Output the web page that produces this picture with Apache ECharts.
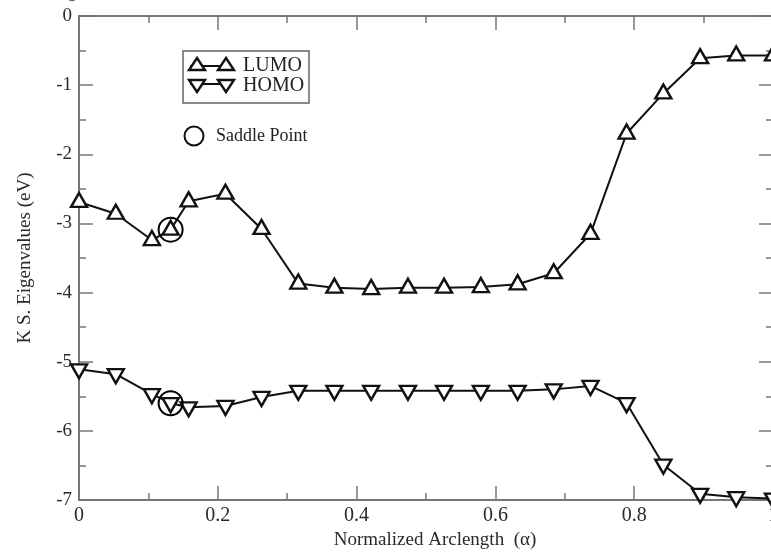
<!DOCTYPE html>
<html>
<head>
<meta charset="utf-8">
<script src="https://cdn.jsdelivr.net/npm/echarts@6/dist/echarts.min.js"></script>
<style>html,body{margin:0;padding:0;background:#fff;}#c{width:771px;height:554px;}</style>
</head>
<body>
<div id="c"></div>
<script>
// Normalized arclength of the images
var alpha = [0, 0.053, 0.105, 0.158, 0.211, 0.263, 0.316, 0.368, 0.421, 0.474, 0.526, 0.579, 0.632, 0.684, 0.737, 0.789, 0.842, 0.895, 0.947, 1.0];
var lumo  = [-2.69, -2.86, -3.24, -2.68, -2.57, -3.08, -3.87, -3.93, -3.95, -3.93, -3.93, -3.92, -3.88, -3.72, -3.15, -1.70, -1.12, -0.61, -0.57, -0.57];
var homo  = [-5.11, -5.18, -5.47, -5.66, -5.64, -5.51, -5.42, -5.42, -5.42, -5.42, -5.42, -5.42, -5.42, -5.40, -5.35, -5.60, -6.49, -6.91, -6.96, -6.98];
var saddleAlpha = 0.132;
var saddleLumo = -3.09;
var saddleHomo = -5.60;
var xTicks = ['0', '0.2', '0.4', '0.6', '0.8', '1'];
var yTicks = ['0', '-1', '-2', '-3', '-4', '-5', '-6', '-7'];

function merged(vals, sv) {
  var out = [];
  for (var i = 0; i < alpha.length; i++) {
    if (i > 0 && alpha[i - 1] < saddleAlpha && alpha[i] > saddleAlpha) out.push([saddleAlpha, sv]);
    out.push([alpha[i], vals[i]]);
  }
  return out;
}

var FONT = '"Liberation Serif", "Times New Roman", serif';
var AX = '#777';
var chart = echarts.init(document.getElementById('c'), null, {renderer: 'canvas'});

function xAxisCfg(pos, labels) {
  return {
    type: 'value', position: pos, min: 0, max: 1, interval: 0.2,
    axisLine: {show: true, onZero: false, lineStyle: {color: AX, width: 2}},
    axisTick: {show: true, inside: true, length: 14, lineStyle: {color: AX, width: 1.5}},
    minorTick: {show: true, splitNumber: 2, length: 7, lineStyle: {color: AX, width: 1.5}},
    splitLine: {show: false},
    axisLabel: {show: labels, margin: 6, color: '#2a2a2a', fontFamily: FONT, fontSize: 20,
      formatter: function (v) { var s = xTicks[Math.round(v / 0.2)]; return s === undefined ? '' : s; }},
    name: labels ? 'Normalized Arclength  (\u03b1)' : '',
    nameLocation: 'middle', nameGap: 31,
    nameTextStyle: {color: '#2a2a2a', fontFamily: FONT, fontSize: 19, padding: [0, 0, 0, 18]}
  };
}
function yAxisCfg(pos, labels) {
  return {
    type: 'value', position: pos, min: -7, max: 0, interval: 1,
    axisLine: {show: true, onZero: false, lineStyle: {color: AX, width: 2}},
    axisTick: {show: true, inside: true, length: 14, lineStyle: {color: AX, width: 1.5}},
    minorTick: {show: true, splitNumber: 2, length: 7, lineStyle: {color: AX, width: 1.5}},
    splitLine: {show: false},
    axisLabel: {show: labels, margin: 7, color: '#2a2a2a', fontFamily: FONT, fontSize: 19,
      formatter: function (v) { var s = yTicks[Math.round(-v)]; return s === undefined ? '' : s; }},
    name: labels ? 'K S. Eigenvalues (eV)' : '',
    nameLocation: 'middle', nameGap: 44,
    nameTextStyle: {color: '#2a2a2a', fontFamily: FONT, fontSize: 19}
  };
}

var upTri = 'path://M5,0 L10,9 L0,9 Z';
var dnTri = 'path://M0,0 L10,0 L5,9 Z';

chart.setOption({
  animation: false,
  backgroundColor: '#fff',
  grid: {left: 79, top: 16, width: 694, height: 484, containLabel: false, outerBoundsMode: 'none'},
  xAxis: [xAxisCfg('bottom', true), xAxisCfg('top', false)],
  yAxis: [yAxisCfg('left', true), yAxisCfg('right', false)],
  series: [
    {name: 'LUMO', type: 'line', data: merged(lumo, saddleLumo), symbol: upTri, symbolSize: [16, 14],
      symbolOffset: [0, -2], showAllSymbol: true,
      lineStyle: {color: '#111', width: 2}, itemStyle: {color: '#fff', borderColor: '#111', borderWidth: 2.4}, z: 3},
    {name: 'HOMO', type: 'line', data: merged(homo, saddleHomo), symbol: dnTri, symbolSize: [16, 14],
      symbolOffset: [0, 2], showAllSymbol: true,
      lineStyle: {color: '#111', width: 2}, itemStyle: {color: '#fff', borderColor: '#111', borderWidth: 2.4}, z: 3},
    {name: 'Saddle Point', type: 'scatter', data: [[saddleAlpha, saddleLumo], [saddleAlpha, saddleHomo]],
      symbol: 'circle', symbolSize: 24,
      itemStyle: {color: 'rgba(0,0,0,0)', borderColor: '#000', borderWidth: 2, opacity: 1}, z: 4}
  ],
  graphic: [
    {type: 'text', left: 62, top: -13, style: {text: '-5', fontFamily: FONT, fontSize: 18, fill: '#333'}},
    {type: 'rect', shape: {x: 183, y: 51, width: 126, height: 52}, style: {fill: '#fff', stroke: '#666', lineWidth: 1.5}, z: 10},
    {type: 'line', shape: {x1: 190, y1: 66, x2: 232, y2: 66}, style: {stroke: '#111', lineWidth: 2}, z: 11},
    {type: 'polygon', shape: {points: [[197, 58], [205, 70], [189, 70]]}, style: {fill: '#fff', stroke: '#111', lineWidth: 2.4}, z: 12},
    {type: 'polygon', shape: {points: [[226, 58], [234, 70], [218, 70]]}, style: {fill: '#fff', stroke: '#111', lineWidth: 2.4}, z: 12},
    {type: 'text', left: 243, top: 56, style: {text: 'LUMO', fontFamily: FONT, fontSize: 20, fill: '#222'}, z: 12},
    {type: 'line', shape: {x1: 190, y1: 84, x2: 232, y2: 84}, style: {stroke: '#111', lineWidth: 2}, z: 11},
    {type: 'polygon', shape: {points: [[189, 80], [205, 80], [197, 92]]}, style: {fill: '#fff', stroke: '#111', lineWidth: 2.4}, z: 12},
    {type: 'polygon', shape: {points: [[218, 80], [234, 80], [226, 92]]}, style: {fill: '#fff', stroke: '#111', lineWidth: 2.4}, z: 12},
    {type: 'text', left: 243, top: 76, style: {text: 'HOMO', fontFamily: FONT, fontSize: 20, fill: '#222'}, z: 12},
    {type: 'circle', shape: {cx: 194, cy: 136, r: 9.5}, style: {fill: 'none', stroke: '#111', lineWidth: 2}, z: 12},
    {type: 'text', left: 216, top: 127, style: {text: 'Saddle Point', fontFamily: FONT, fontSize: 18, fill: '#222'}, z: 12}
  ]
});
</script>
</body>
</html>
